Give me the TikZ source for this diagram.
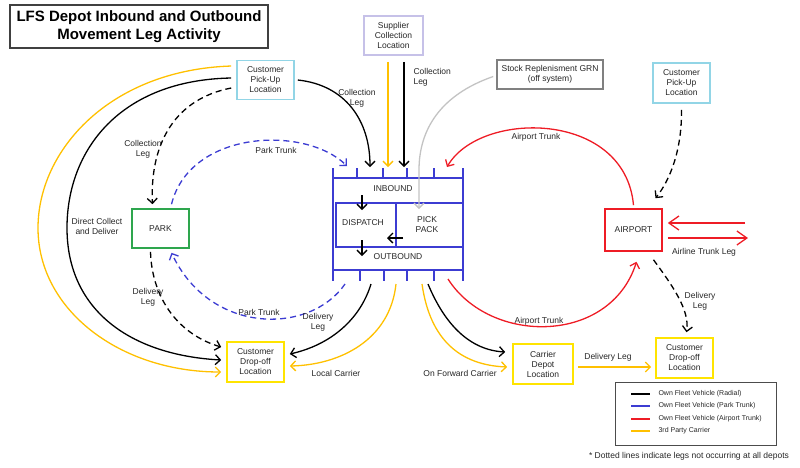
\documentclass[tikz,border=0pt]{standalone}
\usepackage{fontspec}
\setmainfont{Liberation Sans}
\usetikzlibrary{arrows.meta,calc}
\definecolor{fleetblue}{HTML}{3C3CD2}
\definecolor{fleetred}{HTML}{EE1C25}
\definecolor{carrieryellow}{HTML}{FFC000}
\definecolor{boxyellow}{HTML}{FFE400}
\definecolor{pickupblue}{HTML}{92D5E6}
\definecolor{supplierlilac}{HTML}{C6C1E8}
\definecolor{parkgreen}{HTML}{2EA64E}
\definecolor{grnline}{HTML}{C3C3C3}
\definecolor{grnbox}{HTML}{808080}
\definecolor{inktext}{HTML}{262626}
\begin{document}
\begin{tikzpicture}[x=1pt,y=-1pt,
    every node/.style={text=inktext,font=\fontsize{8.5}{10}\selectfont,align=center},
    place/.style={draw,line width=1.6pt,minimum width=57pt,minimum height=39pt},
    leg/.style={line width=1.3pt,-{Straight Barb[length=5pt,width=10pt]}},
    maybe/.style={dash pattern=on 6pt off 4pt},
    bigleg/.style={line width=1.3pt,-{Straight Barb[length=10pt,width=14pt]}},
    depotline/.style={fleetblue,line width=1.8pt}]
    \useasboundingbox (0,0) rectangle (800,467);

    \node[draw=black!75,line width=1.3pt,minimum width=258pt,minimum height=43pt,text=black,
        font=\bfseries\fontsize{15}{18}\selectfont] (title) at (139,26.5) {LFS Depot Inbound and Outbound\\Movement Leg Activity};

    \node[place,draw=pickupblue] (pickL) at (265.5,80) {Customer\\Pick-Up\\Location};
    \node[place,draw=supplierlilac,minimum width=59pt] (supplier) at (393.5,35.5) {Supplier\\Collection\\Location};
    \node[place,draw=grnbox,minimum width=106pt,minimum height=29pt] (stock) at (550,74.5) {Stock Replenisment GRN\\(off system)};
    \node[place,draw=pickupblue,minimum height=40pt] (pickR) at (681.5,83) {Customer\\Pick-Up\\Location};
    \node[place,draw=parkgreen] (park) at (160.5,228.5) {PARK};
    \node[place,draw=fleetred,minimum height=42pt] (airport) at (633.5,230) {AIRPORT};
    \node[place,draw=boxyellow,minimum height=40pt] (dropL) at (255.5,362) {Customer\\Drop-off\\Location};
    \node[place,draw=boxyellow,minimum width=60pt,minimum height=40pt] (carrier) at (543,364) {Carrier\\Depot\\Location};
    \node[place,draw=boxyellow,minimum height=40pt] (dropR) at (684.5,358) {Customer\\Drop-off\\Location};

    \draw[depotline] (333,168) -- (333,281) (463,168) -- (463,281) (333,178) -- (463,178)
        (333,270) -- (463,270) (336,203) rectangle (463,247) (396,203) -- (396,247);
    \foreach \x in {357,383,407,434} \draw[depotline] (\x,168) -- (\x,178);
    \foreach \x in {360,384,407,434} \draw[depotline] (\x,270) -- (\x,281);
    \node (inbound) at (393,189) {INBOUND};
    \node (dispatch) at (363,223) {DISPATCH};
    \node (pickpack) at (427,225) {PICK\\PACK};
    \node (outbound) at (398,257) {OUTBOUND};

    \coordinate (in1) at (347,166);
    \coordinate (in2) at (370,167);
    \coordinate (in3) at (388,167);
    \coordinate (in4) at (404,167);
    \coordinate (in6) at (447,167);
    \coordinate (out1) at (345,284);
    \coordinate (out2) at (371,284);
    \coordinate (out3) at (396,284);
    \coordinate (out4) at (422,284);
    \coordinate (out5) at (428,284);
    \coordinate (out6) at (448,279);
    \coordinate (pk) at (419,209);
    \coordinate (d1) at (362,195);
    \coordinate (d2) at (362,210);
    \coordinate (d3) at (362,240);
    \coordinate (d4) at (362,256);
    \coordinate (d5) at (403,238);
    \coordinate (d6) at (387,238);
    \coordinate (airlineIn) at (745,223);
    \coordinate (airlineOut) at (748,238);

    \draw[leg] (d1) -- (d2);
    \draw[leg] (d3) -- (d4);
    \draw[leg] (d5) -- (d6);

    \draw[leg,carrieryellow] ($(pickL.west)+(-5,-14)$) .. controls (110,70) and (38,150) .. (38,228)
        .. controls (38,310) and (120,372) .. ($(dropL.west)+(-5,10)$);
    \draw[leg] ($(pickL.west)+(-5,-2)$) .. controls (120,80) and (67,150) .. (67,228)
        .. controls (67,310) and (130,355) .. ($(dropL.west)+(-5,-2)$);
    \draw[leg,maybe] ($(pickL.west)+(-5,8)$) .. controls (170,100) and (150,150) .. ($(park.north)+(-8,-4)$);
    \draw[leg,maybe] ($(park.south)+(-10,3)$) .. controls (152,300) and (180,335) .. ($(dropL.west)+(-5,-15)$);
    \draw[leg,maybe,fleetblue] ($(park.north)+(11,-4)$) .. controls (190,130) and (305,125) .. (in1);
    \draw[leg,maybe,fleetblue] (out1) .. controls (310,335) and (210,335) .. ($(park.south)+(11,4)$);
    \draw[leg] ($(pickL.east)+(3,0)$) .. controls (345,85) and (370,120) .. (in2);
    \draw[leg,carrieryellow] ($(in3 |- supplier.south)+(0,6)$) -- (in3);
    \draw[leg] ($(in4 |- supplier.south)+(0,6)$) -- (in4);
    \draw[leg,grnline] ($(stock.west)+(-3,2)$) .. controls (440,95) and (419,130) .. (419,170) -- (pk);

    \draw[leg] (out2) .. controls (360,320) and (330,345) .. ($(dropL.east)+(5,-8)$);
    \draw[leg,carrieryellow] (out3) .. controls (390,340) and (340,365) .. ($(dropL.east)+(5,4)$);
    \draw[leg,carrieryellow] (out4) .. controls (430,340) and (460,365) .. ($(carrier.west)+(-5,3)$);
    \draw[leg] (out5) .. controls (445,325) and (470,350) .. ($(carrier.west)+(-7,-12)$);
    \draw[leg,fleetred] (out6) .. controls (490,345) and (610,345) .. ($(airport.south)+(3,10)$);
    \draw[leg,carrieryellow] ($(carrier.east)+(4,3)$) -- ($(dropR.west)+(-4,9)$);
    \draw[leg,fleetred] ($(airport.north)+(0,-3)$) .. controls (625,110) and (480,110) .. (in6);
    \draw[leg,maybe] ($(pickR.south)+(0,6)$) .. controls (682,150) and (670,180) .. ($(airport.north)+(22,-10)$);
    \draw[leg,maybe] ($(airport.south)+(20,8)$) .. controls (672,285) and (690,310) .. ($(dropR.north)+(2,-5)$);
    \draw[bigleg,fleetred] (airlineIn) -- ($(airport.east)+(5,-7)$);
    \draw[bigleg,fleetred] ($(airport.east)+(5,8)$) -- (airlineOut);

    \node (lblCollL) at (143,149) {Collection\\Leg};
    \node (lblDirect) at (97,226) {Direct Collect\\and Deliver};
    \node (lblDelPark) at (148,297) {Delivery\\Leg};
    \node (lblParkUp) at (276,150) {Park Trunk};
    \node (lblParkLow) at (259,312) {Park Trunk};
    \node (lblDelDepot) at (318,322) {Delivery\\Leg};
    \node (lblLocal) at (336,373) {Local Carrier};
    \node (lblForward) at (460,373) {On Forward Carrier};
    \node (lblAirLow) at (539,321) {Airport Trunk};
    \node (lblCarrierDel) at (608,357) {Delivery Leg};
    \node (lblAirUp) at (536,137) {Airport Trunk};
    \node (lblCollPick) at (357,98) {Collection\\Leg};
    \node[anchor=west,align=left] (lblCollSup) at (410,77) {Collection\\Leg};
    \node (lblDelAir) at (700,301) {Delivery\\Leg};
    \node (lblAirline) at (704,252) {Airline Trunk Leg};

    \node[draw=black!70,line width=0.8pt,minimum width=161pt,minimum height=63pt] (legend) at (695.5,413.5) {};
    \foreach \col/\txt/\yy in {black/Own Fleet Vehicle (Radial)/394,fleetblue/Own Fleet Vehicle (Park Trunk)/406,
        fleetred/Own Fleet Vehicle (Airport Trunk)/419,carrieryellow/3rd Party Carrier/431} {
        \node[anchor=west,font=\fontsize{7}{8}\selectfont] (lg\yy) at (655,\yy) {\txt};
        \draw[\col,line width=1.3pt] ($(lg\yy.west)+(-24,0)$) -- ($(lg\yy.west)+(-5,0)$);
    }
    \node (footnote) at (689,456) {* Dotted lines indicate legs not occurring at all depots};
\end{tikzpicture}
\end{document}
